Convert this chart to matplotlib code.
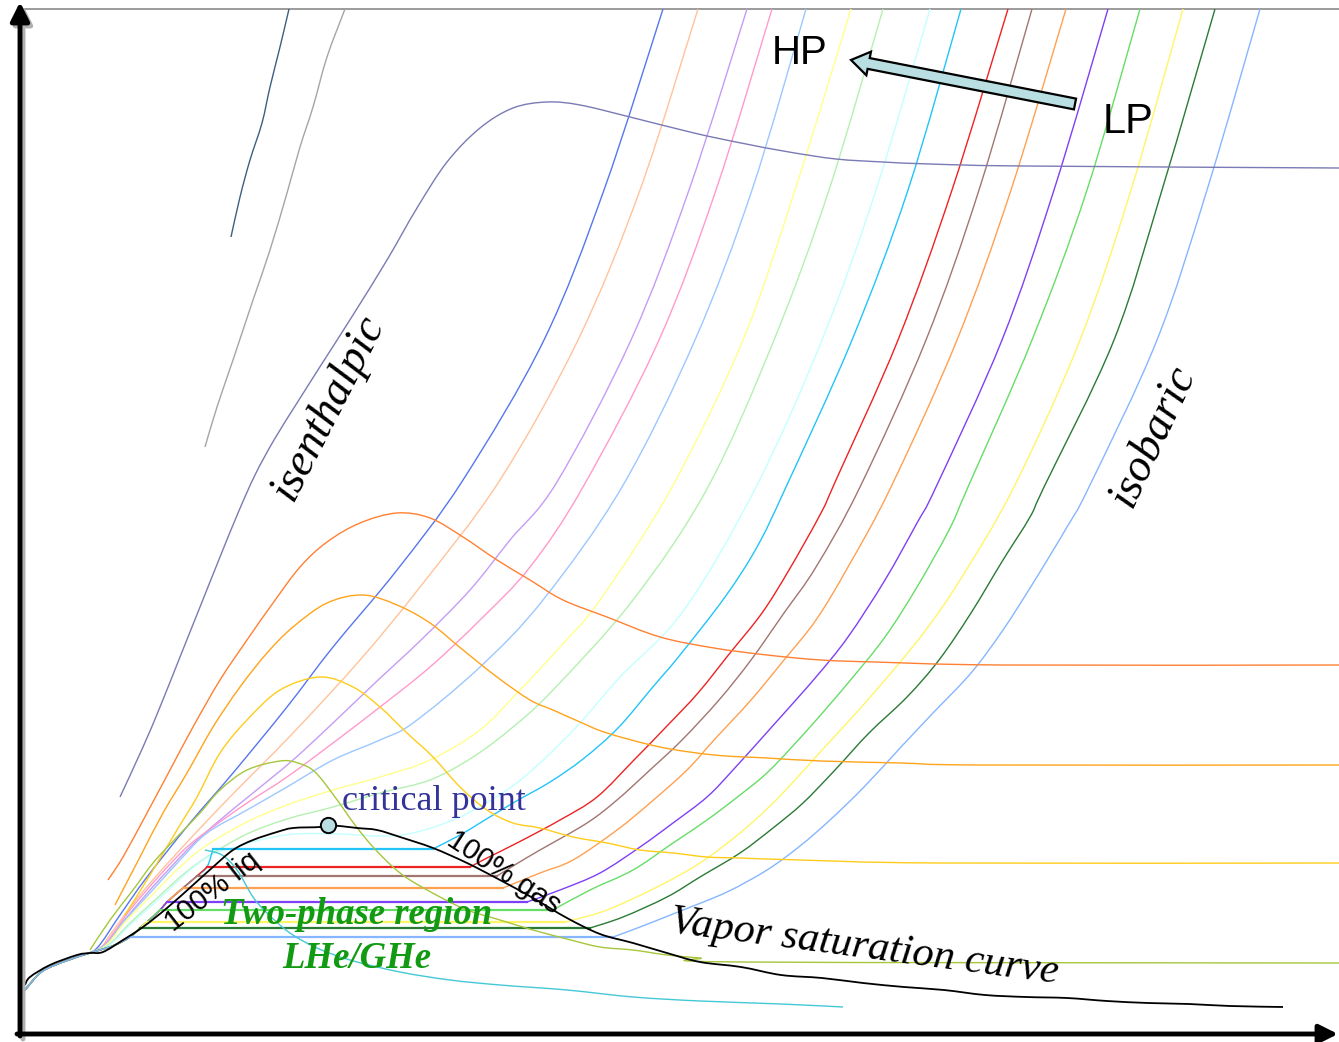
import matplotlib
matplotlib.use("Agg")
import matplotlib.pyplot as plt
from matplotlib.path import Path
from matplotlib.patches import PathPatch

# Helium T-s sketch: entropy along x, temperature along y (arbitrary units)

# vapour saturation dome (liquid branch -> critical point -> vapour branch)
saturation = [(25, 57), (30, 65), (50, 77), (77, 87), (90, 89), (103, 90), (123, 102), (143, 115),
              (167, 134), (193, 157), (213, 175), (233, 192), (253, 202), (277, 210), (293, 214),
              (320, 215), (328, 217), (357, 214), (377, 212), (400, 205), (433, 194), (467, 179),
              (500, 162), (533, 144), (567, 124), (600, 108), (633, 99), (667, 89), (700, 80),
              (741, 75), (781, 67), (822, 64), (863, 59), (904, 55), (944, 52), (985, 47),
              (1026, 45), (1067, 44), (1107, 41), (1148, 39), (1189, 38), (1230, 36), (1283, 35)]
critical_point = (328, 217)

# compressed-liquid side shared by the isobars, and the common tail at low entropy
liquid_side = [(213, 193), (207, 175), (197, 166), (183, 154), (167, 140), (160, 132), (147, 120),
               (140, 114), (130, 105), (115, 97), (100, 92)]
tail = [(80, 86), (55, 77), (40, 69), (25, 52)]

# isobars above the critical pressure
iso_slate = [(289, 1033), (280, 995), (270, 955), (262, 919), (250, 882), (240, 845), (231, 805)]
iso_gray = [(345, 1033), (327, 985), (313, 935), (300, 895), (287, 849), (270, 792), (253, 742),
            (233, 682), (217, 635), (205, 595)]
iso_blue = [(663, 1033), (604, 852), (544, 702), (463, 562), (397, 472), (333, 395), (287, 335),
            (233, 269), (190, 219), (147, 165), (120, 127), (97, 94)]
iso_peach = [(698, 1033), (640, 852), (578, 702), (500, 562), (420, 455), (360, 382), (293, 309),
             (227, 242), (177, 189), (140, 147), (112, 110), (100, 94)]
iso_lavender = [(747, 1033), (689, 852), (631, 702), (557, 560), (510, 502), (470, 452), (421, 402),
                (376, 360), (333, 319), (293, 282), (253, 249), (220, 222), (190, 195), (150, 152),
                (118, 114), (102, 95)]
iso_pink = [(772, 1033), (716, 852), (659, 702), (583, 555), (530, 475), (480, 422), (430, 375),
            (380, 335), (333, 299), (287, 265), (247, 239), (213, 215), (187, 195), (160, 167),
            (130, 132), (103, 96)]
iso_skyblue = [(806, 1033), (752, 852), (695, 702), (622, 555), (543, 442), (480, 375), (413, 319),
               (380, 302), (333, 282), (287, 255), (247, 232), (207, 209), (180, 182), (150, 149),
               (125, 122), (105, 97)]
iso_paleyellow = [(851, 1033), (795, 852), (743, 702), (672, 555), (600, 442), (560, 395), (520, 352),
                  (480, 312), (430, 282), (380, 265), (333, 252), (287, 237), (247, 220), (207, 197),
                  (180, 175), (150, 145), (125, 120), (105, 96)]
iso_palegreen = [(883, 1033), (829, 852), (774, 702), (708, 555), (633, 442), (553, 352), (513, 315),
                 (473, 285), (430, 262), (380, 249), (333, 235), (287, 223), (247, 208), (210, 187),
                 (185, 169), (155, 142), (128, 117), (107, 96)]
iso_palecyan = [(930, 1033), (876, 852), (822, 702), (756, 555), (684, 432), (620, 365), (580, 319),
                (540, 279), (507, 252), (460, 225), (413, 209), (380, 206), (340, 208), (295, 208),
                (260, 202), (233, 194), (213, 188), (190, 172), (160, 144), (130, 117), (108, 96)]

# isobars below the critical pressure: gas side, down to the vapour line
iso_cyan = [(961, 1033), (908, 852), (852, 702), (786, 555), (757, 495), (725, 445), (680, 387),
            (652, 354), (618, 314), (583, 283), (550, 260), (513, 239), (480, 219), (460, 207),
            (433, 193)]
iso_red = [(1008, 1033), (952, 852), (898, 702), (836, 562), (821, 529), (789, 472), (762, 429),
           (730, 389), (698, 349), (666, 315), (634, 282), (597, 245), (560, 222), (517, 199),
           (487, 184), (470, 175)]
iso_brown = [(1032, 1033), (979, 852), (926, 702), (860, 555), (816, 475), (784, 429), (751, 382),
             (719, 342), (682, 302), (650, 272), (617, 242), (587, 219), (540, 192), (518, 179),
             (497, 166)]
iso_orange = [(1066, 1033), (1011, 852), (957, 702), (891, 555), (848, 475), (816, 422), (784, 382),
              (751, 342), (714, 302), (687, 272), (650, 239), (617, 212), (573, 182), (540, 169),
              (503, 154)]
iso_violet = [(1108, 1033), (1054, 852), (1002, 702), (936, 555), (917, 519), (885, 462), (848, 405),
              (816, 365), (778, 322), (733, 272), (707, 245), (673, 219), (640, 195), (600, 169),
              (560, 152), (527, 140)]
iso_green = [(1140, 1033), (1087, 852), (1032, 702), (968, 555), (949, 512), (917, 455), (885, 405),
             (848, 359), (810, 315), (770, 272), (740, 247), (707, 222), (673, 199), (633, 172),
             (590, 152), (553, 132)]
iso_yellow = [(1183, 1033), (1131, 852), (1080, 702), (1014, 555), (960, 462), (928, 415), (896, 375),
              (857, 330), (822, 292), (795, 262), (770, 236), (740, 209), (700, 179), (657, 155),
              (607, 132), (573, 122), (565, 120)]
iso_darkgreen = [(1215, 1033), (1162, 852), (1114, 702), (1044, 555), (1030, 525), (1003, 482),
                 (971, 429), (939, 382), (907, 345), (869, 309), (835, 272), (803, 239), (773, 214),
                 (740, 189), (700, 165), (667, 145), (623, 125), (590, 114)]
iso_lightblue = [(1260, 1033), (1207, 852), (1157, 702), (1089, 555), (1067, 515), (1035, 462),
                 (1003, 412), (971, 369), (933, 329), (901, 295), (864, 255), (830, 222), (800, 196),
                 (767, 172), (727, 150), (683, 132), (640, 115), (613, 105)]

# isenthalps
h_slate = [(120, 245), (143, 295), (160, 335), (180, 385), (200, 435), (220, 485), (238, 529), (255, 567),
           (274, 602), (297, 639), (323, 680), (353, 727), (387, 782), (417, 834), (447, 880), (480, 914),
           (513, 934), (547, 940), (580, 937), (630, 925), (694, 909), (741, 899), (789, 890), (836, 883),
           (883, 880), (930, 878), (1024, 876), (1339, 874)]
h_redorange = [(108, 162), (123, 185), (147, 229), (170, 272), (193, 315), (220, 362), (247, 402),
               (273, 439), (300, 475), (327, 500), (360, 519), (397, 529), (430, 524), (463, 505),
               (497, 482), (530, 462), (563, 442), (607, 425), (660, 405), (714, 394), (767, 387),
               (821, 382), (875, 380), (1003, 377), (1339, 377)]
h_orange = [(115, 137), (140, 185), (163, 229), (187, 269), (213, 315), (240, 355), (267, 389), (293, 415),
            (327, 439), (363, 447), (397, 437), (430, 419), (463, 392), (497, 365), (530, 342), (553, 332),
            (580, 320), (607, 309), (660, 295), (714, 287), (767, 284), (821, 281), (901, 279), (981, 277),
            (1339, 277)]
h_gold = [(125, 127), (150, 167), (177, 212), (197, 245), (220, 289), (247, 322), (280, 352), (320, 365),
          (353, 355), (380, 335), (407, 309), (433, 285), (460, 255), (487, 232), (513, 219), (540, 214),
          (573, 205), (607, 199), (640, 192), (673, 189), (707, 185), (740, 184), (800, 182), (939, 179),
          (1339, 179)]
h_olive = [(90, 92), (110, 122), (133, 152), (153, 179), (177, 205), (200, 229), (220, 252), (247, 272),
           (280, 281), (298, 279), (315, 270), (335, 245), (355, 217), (373, 195), (393, 175), (410, 162),
           (440, 145), (467, 132), (500, 122), (533, 112), (567, 103), (600, 95), (633, 92), (667, 87),
           (700, 84), (741, 80), (1339, 79)]
h_teal = [(205, 192), (222, 187), (237, 172), (253, 145), (267, 129), (290, 109), (317, 94), (350, 82),
          (400, 70), (450, 62), (500, 57), (567, 52), (633, 45), (700, 41), (781, 38), (843, 35)]

supercritical = [
    (iso_slate, "#3e5f80", False), (iso_gray, "#a5a5a5", False),
    (iso_blue, "#5577ee", True), (iso_peach, "#ffc39b", True), (iso_lavender, "#c59cf5", True),
    (iso_pink, "#ff9acb", True), (iso_skyblue, "#9cc7ff", True), (iso_paleyellow, "#ffff8c", True),
    (iso_palegreen, "#b5f0b0", True), (iso_palecyan, "#c4ffff", True),
]
subcritical = [
    (iso_cyan, "#22c4f8"), (iso_red, "#ee2222"), (iso_brown, "#a27570"), (iso_orange, "#ffa050"),
    (iso_violet, "#7f3ff5"), (iso_green, "#66dd66"), (iso_yellow, "#fff566"),
    (iso_darkgreen, "#2a7a35"), (iso_lightblue, "#86b6ff"),
]
isenthalps = [
    (h_slate, "#7a7ab4"), (h_redorange, "#ff8033"), (h_orange, "#ffa31a"), (h_gold, "#ffcc1a"),
    (h_olive, "#a6c63c"), (h_teal, "#44c8d6"),
]

SERIF = ["Liberation Serif", "DejaVu Serif"]
SANS = ["Liberation Sans", "DejaVu Sans"]

fig = plt.figure(figsize=(13.39, 10.42), dpi=100)
ax = fig.add_axes([0, 0, 1, 1])
ax.set_xlim(0, 1339)
ax.set_ylim(0, 1042)
ax.axis("off")


def draw(points, color, lw=1.0, z=2):
    # smooth path through the points (Catmull-Rom turned into cubic Bezier pieces)
    pts = list(points)
    verts = [pts[0]]
    codes = [Path.MOVETO]
    for i in range(len(pts) - 1):
        p0 = pts[max(i - 1, 0)]
        p1, p2 = pts[i], pts[i + 1]
        p3 = pts[min(i + 2, len(pts) - 1)]
        c1 = (p1[0] + (p2[0] - p0[0]) / 6, p1[1] + (p2[1] - p0[1]) / 6)
        c2 = (p2[0] - (p3[0] - p1[0]) / 6, p2[1] - (p3[1] - p1[1]) / 6)
        verts += [c1, c2, p2]
        codes += [Path.CURVE4] * 3
    ax.add_patch(PathPatch(Path(verts, codes), fill=False, edgecolor=color, lw=lw,
                           zorder=z, joinstyle="round", capstyle="butt"))


for pts, color, reaches_tail in supercritical:
    draw(pts + tail if reaches_tail else pts, color)

for pts, color in subcritical:
    level = pts[-1][1]
    liquid = [p for p in liquid_side if p[1] <= level]
    draw(pts, color)
    # two-phase plateau, slightly heavier
    ax.plot([pts[-1][0], liquid[0][0]], [level, level], color=color, lw=1.6, zorder=2)
    draw(liquid + tail, color)

for pts, color in isenthalps:
    draw(pts, color, z=3)

draw(saturation, "black", lw=1.3, z=4)
ax.plot(*critical_point, "o", ms=11, mfc="#b9dfe2", mec="black", mew=1.4, zorder=5)

# frame: top rule and the two axis arrows with a soft shadow
ax.plot([22, 1339], [1033, 1033], color="#8a8a8a", lw=1.2, zorder=1)
for dx, dy, col in [(3, -3, "#b0b0b0"), (0, 0, "black")]:
    ax.annotate("", xy=(20 + dx, 1040 + dy), xytext=(20 + dx, 6 + dy),
                arrowprops=dict(arrowstyle="-|>", lw=3.5, color=col, mutation_scale=28,
                                shrinkA=0, shrinkB=0), zorder=6)
    ax.annotate("", xy=(1338 + dx, 8 + dy), xytext=(17 + dx, 8 + dy),
                arrowprops=dict(arrowstyle="-|>", lw=3.5, color=col, mutation_scale=28,
                                shrinkA=0, shrinkB=0), zorder=6)

# pressure direction arrow
ax.arrow(1075, 938, -224, 44, width=11, head_width=24, head_length=18, length_includes_head=True,
         fc="#b9dfe2", ec="black", lw=1.6, zorder=6)
ax.text(800, 989, "HP", fontsize=29, family=SANS, ha="center", va="center", zorder=7)
ax.text(1128, 920, "LP", fontsize=30, family=SANS, ha="center", va="center", zorder=7)

ax.text(328, 634, "isenthalpic", fontsize=33, family=SERIF, style="italic", rotation=63,
        ha="center", va="center", zorder=7)
ax.text(1153, 606, "isobaric", fontsize=33, family=SERIF, style="italic", rotation=65,
        ha="center", va="center", zorder=7)
ax.text(342, 240, "critical point", fontsize=26, family=SERIF, color="#333399",
        ha="left", va="center", zorder=7)
ax.text(212, 150, "100% liq", fontsize=21, family=SANS, rotation=38,
        ha="center", va="center", zorder=7)
ax.text(504, 170, "100% gas", fontsize=21, family=SANS, rotation=-33,
        ha="center", va="center", zorder=7)
ax.text(357, 127, "Two-phase region", fontsize=26.5, family=SERIF, style="italic", weight="bold",
        color="#129a12", ha="center", va="center", zorder=7)
ax.text(357, 84, "LHe/GHe", fontsize=26.5, family=SERIF, style="italic", weight="bold",
        color="#129a12", ha="center", va="center", zorder=7)
ax.text(864, 95, "Vapor saturation curve", fontsize=30.5, family=SERIF, style="italic",
        rotation=-7.5, ha="center", va="center", zorder=7)

fig.savefig("out.png", dpi=100, facecolor="white")
